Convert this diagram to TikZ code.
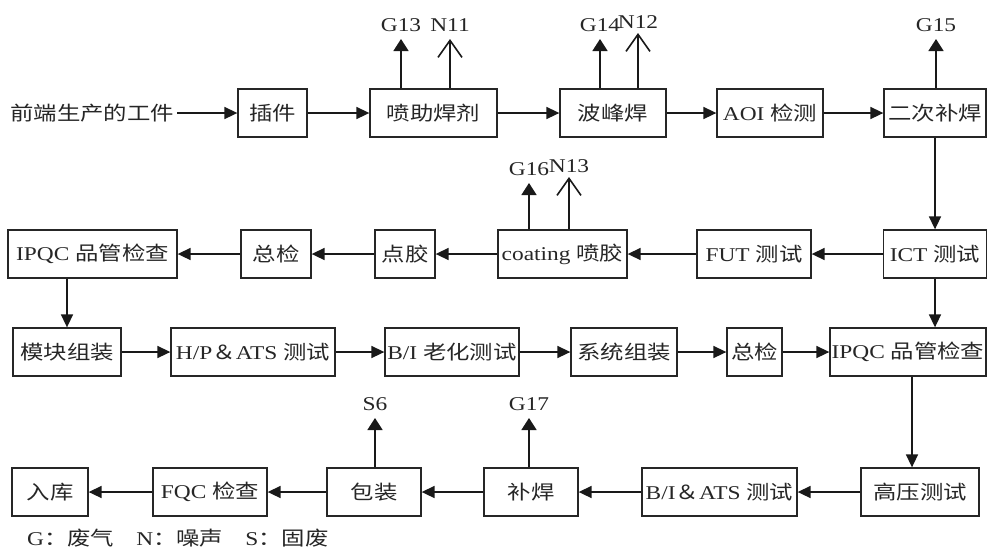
\documentclass[tikz,border=0pt]{standalone}
\usepackage{fontspec}
\setmainfont{Liberation Serif}[FakeStretch=1.2]
\newfontfamily\cjk{Noto Sans CJK SC}[FakeStretch=1.2]
\usetikzlibrary{arrows.meta}
\newcommand\zh[1]{{\cjk #1}}
\begin{document}
\begin{tikzpicture}[x=1pt,y=-1pt,
  every node/.style={font=\fontsize{19.5}{22}\selectfont, text=black!85},
  box/.style={draw=black!85, line width=1.3pt, minimum height=48pt, inner sep=0pt},
  flow/.style={draw=black!90, line width=1.6pt, -{Triangle[length=13pt,width=12pt]}},
  gas/.style={draw=black!90, line width=1.6pt, -{Triangle[length=12pt,width=15pt]}},
  noise/.style={draw=black!90, line width=1.6pt, -{Straight Barb[length=17pt,width=24pt,line width=1.6pt]}},
  lab/.style={inner xsep=0pt, inner ysep=7pt, anchor=south}]
\useasboundingbox (0,0) rectangle (987,550);

% Row 1
\node[inner xsep=3pt, inner ysep=0pt, anchor=west] (src) at (7,113) {\zh{前端生产的工件}};
\node[box, minimum width=69pt]  (chajian) at (272.5,113) {\zh{插件}};
\node[box, minimum width=127pt] (penzhu)  at (433.5,113) {\zh{喷助焊剂}};
\node[box, minimum width=106pt] (bofeng)  at (613,113)   {\zh{波峰焊}};
\node[box, minimum width=106pt] (aoi)     at (770,113)   {AOI \zh{检测}};
\node[box, minimum width=102pt] (erci)    at (935,113)   {\zh{二次补焊}};

% Row 2
\node[box, minimum width=169pt] (ipqc1)    at (92.5,254)  {IPQC \zh{品管检查}};
\node[box, minimum width=70pt]  (zong1)    at (276,254)   {\zh{总检}};
\node[box, minimum width=60pt]  (dianjiao) at (405,254)   {\zh{点胶}};
\node[box, minimum width=129pt] (coating)  at (562.5,254) {coating \zh{喷胶}};
\node[box, minimum width=114pt] (fut)      at (754,254)   {FUT \zh{测试}};
\node[box, minimum width=103pt] (ict)      at (935,254)   {ICT \zh{测试}};

% Row 3
\node[box, minimum width=108pt] (mokuai) at (67,352)    {\zh{模块组装}};
\node[box, minimum width=164pt] (hp)     at (253,352)   {H/P\zh{＆}ATS \zh{测试}};
\node[box, minimum width=134pt] (bi)     at (452,352)   {B/I \zh{老化测试}};
\node[box, minimum width=106pt] (xitong) at (624,352)   {\zh{系统组装}};
\node[box, minimum width=55pt]  (zong2)  at (754.5,352) {\zh{总检}};
\node[box, minimum width=156pt] (ipqc2)  at (908,352)   {IPQC \zh{品管检查}};

% Row 4
\node[box, minimum width=76pt]  (ruku)  at (50,492)    {\zh{入库}};
\node[box, minimum width=114pt] (fqc)   at (210,492)   {FQC \zh{检查}};
\node[box, minimum width=94pt]  (baoz)  at (374,492)   {\zh{包装}};
\node[box, minimum width=94pt]  (buhan) at (531,492)   {\zh{补焊}};
\node[box, minimum width=155pt] (biats) at (719.5,492) {B/I\zh{＆}ATS \zh{测试}};
\node[box, minimum width=118pt] (gaoya) at (920,492)   {\zh{高压测试}};

% Emission labels
\node[lab] (g13) at (401,39)  {G13};
\node[lab] (n11) at (450,39)  {N11};
\node[lab] (g14) at (600,39)  {G14};
\node[lab] (n12) at (638,36)  {N12};
\node[lab] (g15) at (936,39)  {G15};
\node[lab] (g16) at (529,183) {G16};
\node[lab] (n13) at (569,180) {N13};
\node[lab] (s6)  at (375,418) {S6};
\node[lab] (g17) at (529,418) {G17};

% Legend
\node[anchor=west, inner sep=0pt] (legend) at (27,538)
  {G\zh{：废气}\hspace{22pt}N\zh{：噪声}\hspace{22pt}S\zh{：固废}};

% Row 1 flow
\draw[flow] (src.east) -- (chajian.west);
\draw[flow] (chajian) -- (penzhu);
\draw[flow] (penzhu) -- (bofeng);
\draw[flow] (bofeng) -- (aoi);
\draw[flow] (aoi) -- (erci);
\draw[flow] (erci.south) -- (erci.south |- ict.north);
% Row 2 flow
\draw[flow] (ict) -- (fut);
\draw[flow] (fut) -- (coating);
\draw[flow] (coating) -- (dianjiao);
\draw[flow] (dianjiao) -- (zong1);
\draw[flow] (zong1) -- (ipqc1);
\draw[flow] (ipqc1.south -| mokuai.north) -- (mokuai.north);
% Row 3 flow
\draw[flow] (mokuai) -- (hp);
\draw[flow] (hp) -- (bi);
\draw[flow] (bi) -- (xitong);
\draw[flow] (xitong) -- (zong2);
\draw[flow] (zong2) -- (ipqc2);
\draw[flow] (ict.south) -- (ict.south |- ipqc2.north);
\draw[flow] ([xshift=4pt]ipqc2.south) -- ([xshift=4pt]ipqc2.south |- gaoya.north);
% Row 4 flow
\draw[flow] (gaoya) -- (biats);
\draw[flow] (biats) -- (buhan);
\draw[flow] (buhan) -- (baoz);
\draw[flow] (baoz) -- (fqc);
\draw[flow] (fqc) -- (ruku);

% Emissions
\draw[gas]   (penzhu.north -| g13) -- (g13.south);
\draw[noise] (penzhu.north -| n11) -- (n11.south);
\draw[gas]   (bofeng.north -| g14) -- (g14.south);
\draw[noise] (bofeng.north -| n12) -- ([yshift=3pt]n12.south);
\draw[gas]   (erci.north -| g15) -- (g15.south);
\draw[gas]   (coating.north -| g16) -- (g16.south);
\draw[noise] (coating.north -| n13) -- ([yshift=3pt]n13.south);
\draw[gas]   (baoz.north -| s6) -- (s6.south);
\draw[gas]   (buhan.north -| g17) -- (g17.south);
\end{tikzpicture}
\end{document}
